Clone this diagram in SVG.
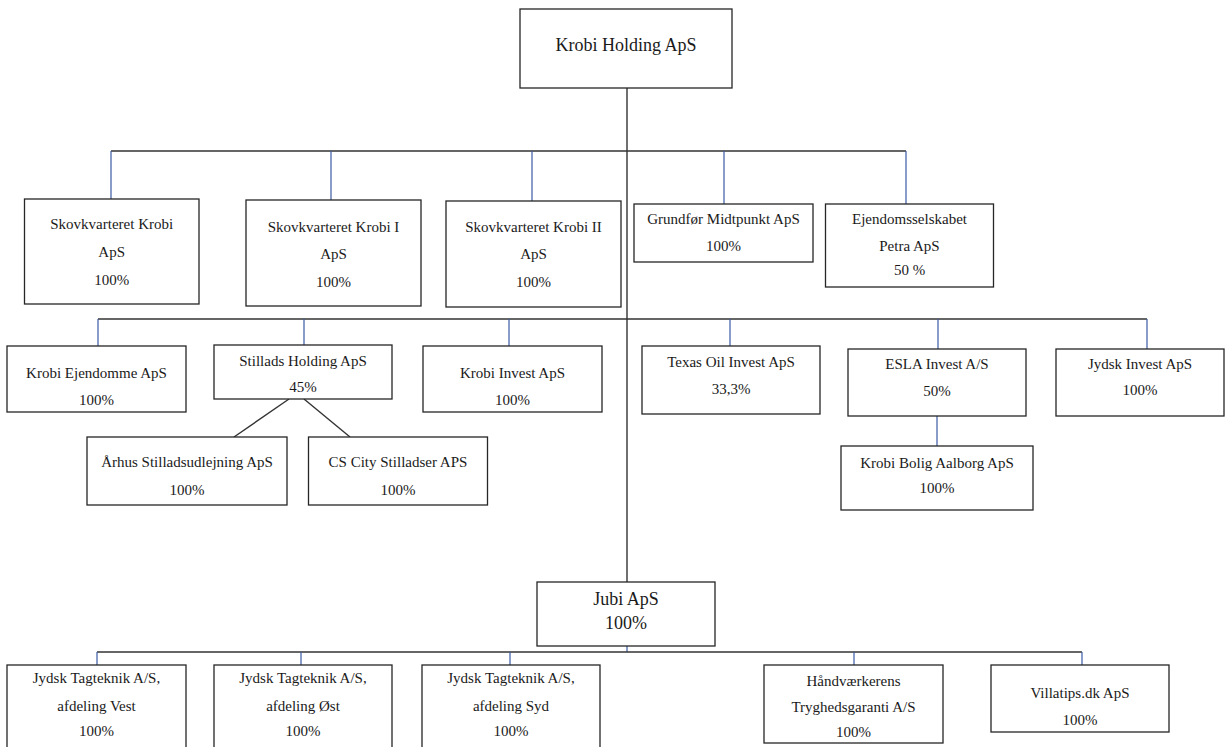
<svg xmlns="http://www.w3.org/2000/svg" width="1226" height="747" viewBox="0 0 1226 747">
<style>
.box{fill:#fff;stroke:#262626;stroke-width:1.3}
.t{font-family:"Liberation Serif","Times New Roman",serif;font-size:15px;fill:#1a1a1a;text-anchor:middle}
.big{font-size:18px}
.ln{stroke:#333;stroke-width:1.4;fill:none}
.dr{stroke:#3b5ba5;stroke-width:1.2;fill:none}
</style>
<rect width="1226" height="747" fill="#fff"/>
<g id="connectors">
<line class="ln" x1="627" y1="88" x2="627" y2="582"/>
<line class="ln" x1="111" y1="151" x2="906" y2="151"/>
<line class="dr" x1="111" y1="151" x2="111" y2="199"/>
<line class="dr" x1="331" y1="151" x2="331" y2="200"/>
<line class="dr" x1="532" y1="151" x2="532" y2="201"/>
<line class="dr" x1="724" y1="151" x2="724" y2="204"/>
<line class="dr" x1="906" y1="151" x2="906" y2="204"/>
<line class="ln" x1="98" y1="319" x2="1147" y2="319"/>
<line class="dr" x1="98" y1="319" x2="98" y2="346"/>
<line class="dr" x1="304" y1="319" x2="304" y2="345"/>
<line class="dr" x1="509" y1="319" x2="509" y2="346"/>
<line class="dr" x1="730" y1="319" x2="730" y2="346"/>
<line class="dr" x1="938" y1="319" x2="938" y2="349"/>
<line class="dr" x1="1147" y1="319" x2="1147" y2="349"/>
<line class="ln" x1="289" y1="399" x2="234" y2="437"/>
<line class="ln" x1="304" y1="399" x2="350" y2="437"/>
<line class="dr" x1="937" y1="416" x2="937" y2="446"/>
<line class="dr" x1="627" y1="646" x2="627" y2="652"/>
<line class="ln" x1="97" y1="652" x2="1082" y2="652"/>
<line class="dr" x1="97" y1="652" x2="97" y2="665"/>
<line class="dr" x1="301" y1="652" x2="301" y2="665"/>
<line class="dr" x1="510" y1="652" x2="510" y2="665"/>
<line class="dr" x1="854" y1="652" x2="854" y2="665"/>
<line class="dr" x1="1082" y1="652" x2="1082" y2="665"/>
</g>
<g id="krobi-holding"><rect class="box" x="520" y="9" width="212" height="79"/><text class="t big" x="626" y="51">Krobi Holding ApS</text></g>
<g id="skovkvarteret-krobi"><rect class="box" x="24.5" y="199" width="174.5" height="105"/><text class="t" x="111.7" y="229">Skovkvarteret Krobi</text><text class="t" x="111.7" y="257">ApS</text><text class="t" x="111.7" y="285">100%</text></g>
<g id="skovkvarteret-krobi-i"><rect class="box" x="246" y="200" width="175" height="106"/><text class="t" x="333.5" y="232">Skovkvarteret Krobi I</text><text class="t" x="333.5" y="259">ApS</text><text class="t" x="333.5" y="287">100%</text></g>
<g id="skovkvarteret-krobi-ii"><rect class="box" x="446" y="201" width="175" height="106"/><text class="t" x="533.5" y="232">Skovkvarteret Krobi II</text><text class="t" x="533.5" y="259">ApS</text><text class="t" x="533.5" y="287">100%</text></g>
<g id="grundfor"><rect class="box" x="634" y="204" width="179" height="58"/><text class="t" x="723.5" y="224">Grundfør Midtpunkt ApS</text><text class="t" x="723.5" y="251">100%</text></g>
<g id="ejendomsselskabet-petra"><rect class="box" x="825.5" y="204" width="168" height="83"/><text class="t" x="909.5" y="224">Ejendomsselskabet</text><text class="t" x="909.5" y="251">Petra ApS</text><text class="t" x="909.5" y="275">50 %</text></g>
<g id="krobi-ejendomme"><rect class="box" x="7" y="346" width="179" height="66"/><text class="t" x="96.5" y="378">Krobi Ejendomme ApS</text><text class="t" x="96.5" y="405">100%</text></g>
<g id="stillads-holding"><rect class="box" x="214" y="345" width="178" height="54"/><text class="t" x="303" y="366">Stillads Holding ApS</text><text class="t" x="303" y="392">45%</text></g>
<g id="krobi-invest"><rect class="box" x="423" y="346" width="179" height="66"/><text class="t" x="512.5" y="378">Krobi Invest ApS</text><text class="t" x="512.5" y="405">100%</text></g>
<g id="texas-oil"><rect class="box" x="642" y="346" width="178" height="68"/><text class="t" x="731" y="367">Texas Oil Invest ApS</text><text class="t" x="731" y="394">33,3%</text></g>
<g id="esla-invest"><rect class="box" x="848" y="349" width="178" height="67"/><text class="t" x="937" y="369">ESLA Invest A/S</text><text class="t" x="937" y="396">50%</text></g>
<g id="jydsk-invest"><rect class="box" x="1056" y="349" width="168" height="67"/><text class="t" x="1140" y="369">Jydsk Invest ApS</text><text class="t" x="1140" y="395">100%</text></g>
<g id="arhus-stillads"><rect class="box" x="87" y="437" width="200" height="68"/><text class="t" x="187" y="467">Århus Stilladsudlejning ApS</text><text class="t" x="187" y="495">100%</text></g>
<g id="cs-city"><rect class="box" x="308.5" y="437" width="179" height="68"/><text class="t" x="398" y="467">CS City Stilladser APS</text><text class="t" x="398" y="495">100%</text></g>
<g id="krobi-bolig"><rect class="box" x="841" y="446" width="192" height="64"/><text class="t" x="937" y="468">Krobi Bolig Aalborg ApS</text><text class="t" x="937" y="493">100%</text></g>
<g id="jubi"><rect class="box" x="537" y="582" width="178" height="64"/><text class="t big" x="626" y="605">Jubi ApS</text><text class="t big" x="626" y="629">100%</text></g>
<g id="tagteknik-vest"><rect class="box" x="7" y="665" width="179" height="100"/><text class="t" x="96.5" y="683">Jydsk Tagteknik A/S,</text><text class="t" x="96.5" y="711">afdeling Vest</text><text class="t" x="96.5" y="736">100%</text></g>
<g id="tagteknik-ost"><rect class="box" x="214" y="665" width="178" height="100"/><text class="t" x="303" y="683">Jydsk Tagteknik A/S,</text><text class="t" x="303" y="711">afdeling Øst</text><text class="t" x="303" y="736">100%</text></g>
<g id="tagteknik-syd"><rect class="box" x="422" y="665" width="178" height="100"/><text class="t" x="511" y="683">Jydsk Tagteknik A/S,</text><text class="t" x="511" y="711">afdeling Syd</text><text class="t" x="511" y="736">100%</text></g>
<g id="handvaerkerens"><rect class="box" x="764" y="665" width="179" height="78"/><text class="t" x="853.5" y="686">Håndværkerens</text><text class="t" x="853.5" y="712">Tryghedsgaranti A/S</text><text class="t" x="853.5" y="737">100%</text></g>
<g id="villatips"><rect class="box" x="991" y="665" width="178" height="67"/><text class="t" x="1080" y="698">Villatips.dk ApS</text><text class="t" x="1080" y="725">100%</text></g>
</svg>
